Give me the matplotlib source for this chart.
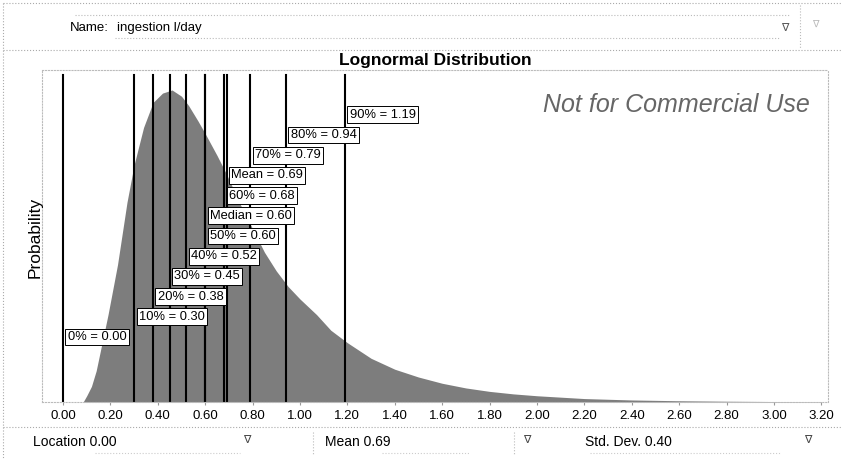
import matplotlib
matplotlib.use("Agg")
import matplotlib.pyplot as plt
from matplotlib.lines import Line2D

plt.rcParams.update({"font.family": ["Liberation Sans", "DejaVu Sans"], "font.size": 9})

# curve (relative height, peak = 1)
dens_x = [0.00, 0.05, 0.085, 0.10, 0.12, 0.14, 0.165, 0.19, 0.21, 0.23, 0.25, 0.27,
          0.30, 0.34, 0.38, 0.42, 0.46, 0.50, 0.53, 0.57, 0.60, 0.65, 0.69, 0.75,
          0.80, 0.85, 0.90, 0.95, 1.00, 1.07, 1.13, 1.20, 1.30, 1.40, 1.50, 1.60,
          1.70, 1.80, 1.90, 2.00, 2.20, 2.40, 2.60, 2.80, 3.00, 3.20]
dens_y = [0.0, 0.0, 0.0, 0.02, 0.05, 0.10, 0.19, 0.28, 0.36, 0.44, 0.54, 0.64,
          0.76, 0.88, 0.96, 0.99, 1.00, 0.98, 0.95, 0.90, 0.86, 0.79, 0.73, 0.63,
          0.555, 0.48, 0.42, 0.37, 0.33, 0.28, 0.23, 0.19, 0.14, 0.105, 0.08, 0.06,
          0.045, 0.034, 0.026, 0.02, 0.011, 0.0065, 0.004, 0.0025, 0.0015, 0.001]

mark_names = ["0%", "10%", "20%", "30%", "40%", "50%", "Median", "60%", "Mean",
              "70%", "80%", "90%"]
mark_vals = [0.00, 0.30, 0.38, 0.45, 0.52, 0.60, 0.60, 0.68, 0.69, 0.79, 0.94, 1.19]

xticks = [0.0, 0.2, 0.4, 0.6, 0.8, 1.0, 1.2, 1.4, 1.6, 1.8, 2.0, 2.2, 2.4, 2.6,
          2.8, 3.0, 3.2]

dist_name = "ingestion l/day"
params = [("Location", 0.00), ("Mean", 0.69), ("Std. Dev.", 0.40)]

W, H = 844, 462
fig = plt.figure(figsize=(W / 100, H / 100), dpi=100)


def fx(x):
    return x / W


def fy(y):
    return 1 - y / H


def hline(x0, x1, y, color="#aaaaaa", ls=":", lw=0.8):
    fig.add_artist(Line2D([fx(x0), fx(x1)], [fy(y), fy(y)], color=color, ls=ls, lw=lw))


def vline(x, y0, y1, color="#aaaaaa", ls=":", lw=0.8):
    fig.add_artist(Line2D([fx(x), fx(x)], [fy(y0), fy(y1)], color=color, ls=ls, lw=lw))


# plot area: x 42..828 px, y 70..402 px
ax = fig.add_axes([fx(42), fy(402), fx(828 - 42), (402 - 70) / H])
ax.fill_between(dens_x, dens_y, 0, color="#7d7d7d", lw=0, zorder=1)
for v in mark_vals:
    ax.plot([v, v], [0, 1.048], color="black", lw=1.5, zorder=2)

for i, (n, v) in enumerate(zip(mark_names, mark_vals)):
    ypx = 337 - 20.2 * i
    ax.text(v + 0.02, (402 - ypx) / 312, f"{n} = {v:.2f}", ha="left", va="center",
            fontsize=9.3, zorder=3,
            bbox=dict(boxstyle="square,pad=0.18", fc="white", ec="black", lw=0.7))

ax.text(0.977, 0.895, "Not for Commercial Use", transform=ax.transAxes, ha="right",
        va="center", fontsize=18, style="italic", color="#666666")

ax.set_xlim(-0.0886, 3.228)
ax.set_ylim(0, 1.064)
ax.set_xticks(xticks)
ax.set_xticklabels([f"{t:.2f}" for t in xticks], fontsize=9.5)
ax.tick_params(axis="x", length=2, pad=4, color="#999999")
ax.set_yticks([])
for s in ax.spines.values():
    s.set_linestyle(":")
    s.set_color("#bbbbbb")
    s.set_linewidth(0.8)

fig.text(fx(35), fy(237), "Probability", rotation=90, ha="center", va="center",
         fontsize=12.5)

# title
fig.text(fx(435), fy(61), "Lognormal Distribution", ha="center", va="center",
         fontsize=12.5, fontweight="bold")

# outer frame and separators
hline(3, 841, 3)
vline(3, 3, 458)
hline(3, 841, 50)
hline(3, 841, 427)
hline(75, 790, 15, color="#bbbbbb")
hline(115, 780, 38, color="#bbbbbb")
vline(800, 5, 48, color="#bbbbbb")

# name row
fig.text(fx(70), fy(28), "Name:", ha="left", va="center", fontsize=9.5)
fig.text(fx(117), fy(28), dist_name, ha="left", va="center", fontsize=9.5)
fig.text(fx(785), fy(28), "\u2207", ha="center", va="center", fontsize=8, color="#555555")
fig.text(fx(815), fy(24), "\u2207", ha="center", va="center", fontsize=7, color="#bbbbbb")

# parameter row
px_text = [33, 325, 585]
px_icon = [247, 527, 808]
px_under = [(95, 240), (382, 470), (590, 780)]
for (lab, val), xt, xi, (u0, u1) in zip(params, px_text, px_icon, px_under):
    fig.text(fx(xt), fy(442), f"{lab} {val:.2f}", ha="left", va="center", fontsize=10)
    fig.text(fx(xi), fy(440), "\u2207", ha="center", va="center", fontsize=8,
             color="#444444")
    hline(u0, u1, 453, color="#cccccc")
vline(313, 432, 455, color="#bbbbbb")
vline(514, 432, 455, color="#bbbbbb")

fig.savefig("out.png", dpi=100, facecolor="white")
